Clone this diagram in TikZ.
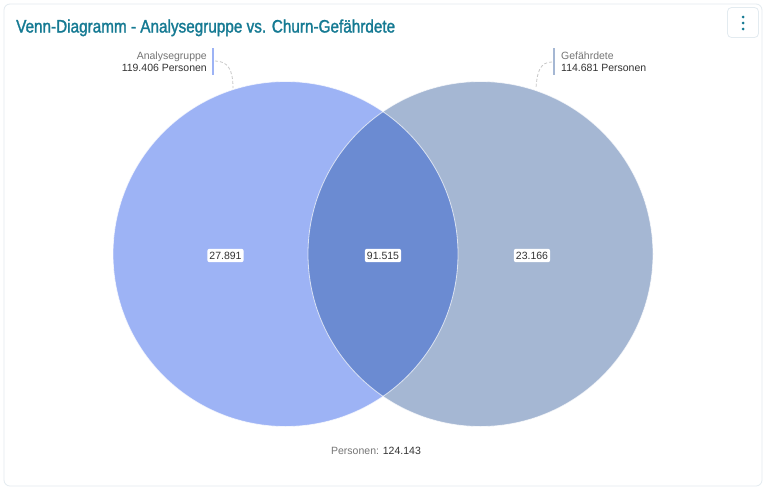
\documentclass[tikz,border=0pt]{standalone}
\usepackage{fontspec}
\setmainfont{Liberation Sans}
\newfontfamily\titlefont[FakeBold=1.5,FakeStretch=0.85]{Liberation Sans}
\definecolor{cardline}{HTML}{E3EBF0}
\definecolor{titlec}{HTML}{157A93}
\definecolor{leftc}{HTML}{9DB3F5}
\definecolor{rightc}{HTML}{A5B7D3}
\definecolor{midc}{HTML}{6B8BD2}
\definecolor{greytxt}{HTML}{757575}
\definecolor{darktxt}{HTML}{333333}
\definecolor{dashc}{HTML}{C8C8C8}
\tikzset{
  valbox/.style={fill=white, rounded corners=2pt, inner xsep=2pt, inner ysep=3pt, font=\fontsize{10.5}{12}\selectfont, text=darktxt},
  smalltxt/.style={font=\fontsize{10.5}{11}\selectfont, inner sep=0pt},
  leader/.style={dashc, densely dashed, line width=0.8pt},
}
\begin{document}
\begin{tikzpicture}[x=1pt,y=-1pt]
\useasboundingbox (0,0) rectangle (766,491);
\fill[white] (0,0) rectangle (766,491);
% card
\draw[cardline, fill=white, rounded corners=6pt, line width=0.8pt] (4,4) rectangle (762,486);
% title
\node[anchor=base west, inner sep=0pt, text=titlec, font=\titlefont\fontsize{18}{20}\selectfont] (title) at (16,32.5) {Venn-Diagramm - Analysegruppe vs. Churn-Gefährdete};
% menu button
\node[draw=cardline, line width=0.8pt, rounded corners=4pt, minimum width=31pt, minimum height=30pt, inner sep=0pt] (menu) at (743,22.5) {};
\foreach \yy in {17,23,29} \fill[titlec] (743,\yy) circle (1.5pt);
% circles
\coordinate (cl) at (285.5,254);
\coordinate (cr) at (480.5,254);
\fill[leftc] (cl) circle (172.5);
\fill[rightc] (cr) circle (172.5);
\begin{scope}
  \clip (cl) circle (172.5);
  \fill[midc] (cr) circle (172.5);
\end{scope}
\draw[white, opacity=0.7, line width=0.8pt] (cl) circle (172.5);
\draw[white, opacity=0.7, line width=0.8pt] (cr) circle (172.5);
% value labels
\node[valbox] (v1) at (225.5,255.5) {27.891};
\node[valbox] (v2) at (383,255.5) {91.515};
\node[valbox] (v3) at (532,255.5) {23.166};
% left set label
\draw[leftc, line width=1.6pt] (213,48) -- (213,75);
\node[smalltxt, anchor=base east, text=greytxt] (la1) at (207,59) {Analysegruppe};
\node[smalltxt, anchor=base east, text=darktxt] (la2) at (207,71) {119.406 Personen};
\coordinate (lstart) at (215,61);
\coordinate (lend) at (233,88);
\draw[leader] (lstart) .. controls (228,61) and (233,70) .. (lend);
% right set label
\draw[rightc, line width=1.6pt] (554,48) -- (554,75);
\node[smalltxt, anchor=base west, text=greytxt] (ra1) at (561,59) {Gefährdete};
\node[smalltxt, anchor=base west, text=darktxt] (ra2) at (561,71) {114.681 Personen};
\coordinate (rstart) at (552,62);
\coordinate (rend) at (536,88);
\draw[leader] (rstart) .. controls (540,62) and (537,72) .. (rend);
% bottom total
\node[smalltxt, anchor=base, text=greytxt] (tot) at (376,454) {Personen: \textcolor{darktxt}{124.143}};
\end{tikzpicture}
\end{document}
